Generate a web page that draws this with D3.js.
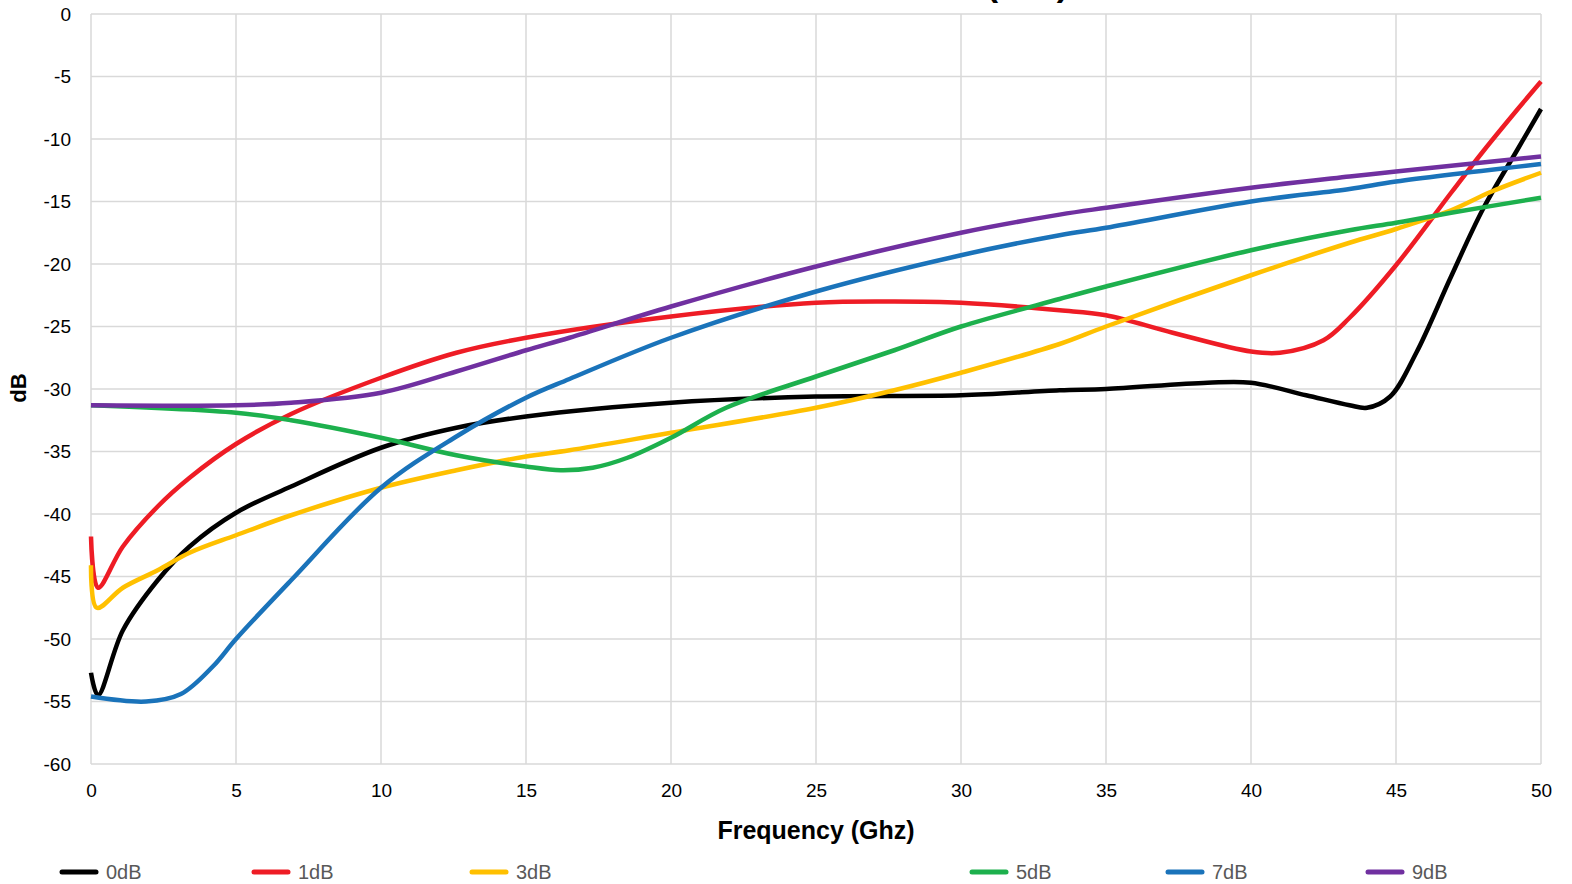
<!DOCTYPE html>
<html>
<head>
<meta charset="utf-8">
<script src="https://cdn.jsdelivr.net/npm/d3@7"></script>
<style>
  body { margin: 0; background: #fff; }
  svg { display: block; font-family: "Liberation Sans", Arial, sans-serif; }
  .grid line { stroke: #d9d9d9; stroke-width: 1.5; }
  .tick text { fill: #000; font-size: 19px; }
</style>
</head>
<body>
<svg width="1572" height="884"></svg>
<script>
// series names and colours
let seriesNames = ["0dB", "1dB", "3dB", "5dB", "7dB", "9dB"];
let seriesColors = ["#000000", "#ee1c25", "#ffc000", "#1db04d", "#1a73ba", "#7030a0"];

// tick labels
let xTicks = [0, 5, 10, 15, 20, 25, 30, 35, 40, 45, 50];
let yTicks = [0, -5, -10, -15, -20, -25, -30, -35, -40, -45, -50, -55, -60];

// frequency (GHz) / dB readings per series
let freq0 = [0, 0.24, 1.1, 2.3, 3.4, 5, 6.9, 10, 12.6, 15, 20, 25, 30, 33.4, 35, 38.5, 40, 41.9, 43.4, 44.0, 44.8, 45.7, 46.9, 48.0, 49.2, 50];
let db0   = [-52.7, -54.5, -49.3, -45.3, -42.6, -39.9, -37.8, -34.7, -33.1, -32.2, -31.1, -30.6, -30.5, -30.1, -30.0, -29.5, -29.5, -30.5, -31.3, -31.5, -30.6, -27.1, -21.0, -15.6, -10.8, -7.6];

let freq1 = [0, 0.24, 1.1, 2.3, 3.4, 5, 6.9, 10, 12.6, 15, 20, 25, 27.7, 30, 33.4, 35, 37.3, 40, 41, 42.5, 43.4, 45, 46.9, 48.0, 49.2, 50];
let db1   = [-41.8, -45.9, -42.6, -39.4, -37.1, -34.4, -32.0, -29.1, -27.1, -25.9, -24.2, -23.1, -23.0, -23.1, -23.7, -24.1, -25.5, -27.0, -27.1, -26.1, -24.3, -20.1, -14.3, -11.0, -7.6, -5.4];

let freq3 = [0, 0.2, 1.1, 2.3, 3.4, 5, 6.9, 10, 12.6, 15, 16.5, 20, 25, 27.7, 30, 33.4, 35, 40, 43.4, 45, 46.9, 48.3, 50];
let db3   = [-44.1, -47.5, -45.9, -44.5, -43.1, -41.7, -40.1, -37.9, -36.5, -35.4, -34.9, -33.5, -31.5, -30.1, -28.7, -26.4, -25.0, -20.9, -18.3, -17.2, -15.7, -14.2, -12.7];

let freq5 = [0, 5, 6.9, 10, 12.6, 15, 16.2, 17.3, 18.5, 20, 21.9, 25, 27.7, 30, 33.4, 35, 40, 43.4, 45, 46.9, 50];
let db5   = [-31.3, -31.9, -32.5, -33.9, -35.3, -36.2, -36.5, -36.3, -35.5, -33.9, -31.5, -29.0, -26.9, -25.0, -22.8, -21.8, -18.9, -17.3, -16.7, -15.9, -14.7];

let freq7 = [0, 1.9, 3.1, 4.2, 5, 6.9, 10, 12.6, 15, 16.5, 20, 25, 30, 33.4, 35, 40, 43.4, 45, 50];
let db7   = [-54.6, -55.0, -54.4, -52.2, -50.0, -45.3, -37.9, -33.8, -30.7, -29.2, -25.9, -22.2, -19.3, -17.7, -17.1, -15.0, -14.0, -13.4, -12.0];

let freq9 = [0, 5, 6.9, 10, 12.6, 15, 16.5, 20, 25, 30, 33.4, 35, 40, 43.4, 45, 50];
let db9   = [-31.3, -31.3, -31.1, -30.3, -28.6, -26.9, -25.9, -23.4, -20.2, -17.5, -16.05, -15.5, -13.9, -13.0, -12.6, -11.4];

let freqs = [freq0, freq1, freq3, freq5, freq7, freq9];
let dbs = [db0, db1, db3, db5, db7, db9];

// legend positions along the bottom (swatch left edge)
let legendX = [60, 252, 470, 970, 1166, 1366];

/******************/

let margin = {top: 14, right: 31, bottom: 120, left: 91};
let width = 1572 - margin.left - margin.right;
let height = 884 - margin.top - margin.bottom;

let xScale = d3.scaleLinear().domain([0, 50]).range([0, width]);
let yScale = d3.scaleLinear().domain([-60, 0]).range([height, 0]);

let svg = d3.select("svg");

// title (sits above the visible area, only the brackets peek in)
svg.append("text")
  .attr("x", 1068)
  .attr("y", -4)
  .attr("text-anchor", "end")
  .style("font-size", "34px")
  .style("font-weight", "bold")
  .text("Return Loss (S11)");

let parent = svg.append("g")
  .attr("transform", `translate(${margin.left}, ${margin.top})`);

// gridlines
parent.append("g")
  .attr("class", "grid")
  .selectAll("line.v")
  .data(xTicks)
  .enter().append("line")
    .attr("x1", d => xScale(d)).attr("x2", d => xScale(d))
    .attr("y1", 0).attr("y2", height);

parent.append("g")
  .attr("class", "grid")
  .selectAll("line.h")
  .data(yTicks)
  .enter().append("line")
    .attr("x1", 0).attr("x2", width)
    .attr("y1", d => yScale(d)).attr("y2", d => yScale(d));

// axes (labels only, Excel style)
let xAxis = d3.axisBottom(xScale).tickValues(xTicks).tickSize(0).tickPadding(20);
let yAxis = d3.axisLeft(yScale).tickValues(yTicks).tickSize(0).tickPadding(20)
  .tickFormat(d => d === 0 ? "0" : "-" + Math.abs(d));

parent.append("g")
  .attr("class", "x-axis")
  .attr("transform", `translate(0, ${height})`)
  .call(xAxis)
  .call(g => g.select(".domain").remove());

parent.append("g")
  .attr("class", "y-axis")
  .call(yAxis)
  .call(g => g.select(".domain").remove());

// axis titles
svg.append("text")
  .attr("x", margin.left + width / 2)
  .attr("y", 839)
  .attr("text-anchor", "middle")
  .style("font-size", "25px")
  .style("font-weight", "bold")
  .text("Frequency (Ghz)");

svg.append("text")
  .attr("transform", "translate(26, 388) rotate(-90)")
  .attr("text-anchor", "middle")
  .style("font-size", "22px")
  .style("font-weight", "bold")
  .text("dB");

// lines
let line = d3.line()
  .x(d => xScale(d[0]))
  .y(d => yScale(d[1]))
  .curve(d3.curveCatmullRom.alpha(0.5));

parent.selectAll(".series")
  .data(seriesNames)
  .enter().append("path")
    .attr("class", "series")
    .attr("fill", "none")
    .attr("stroke", (d, i) => seriesColors[i])
    .attr("stroke-width", 4.5)
    .attr("stroke-linejoin", "round")
    .attr("d", (d, i) => line(d3.zip(freqs[i], dbs[i])));

// legend
let legend = svg.selectAll(".legend")
  .data(seriesNames)
  .enter().append("g")
    .attr("class", "legend")
    .attr("transform", (d, i) => `translate(${legendX[i]}, 872)`);

legend.append("line")
  .attr("x1", 2).attr("x2", 36)
  .attr("stroke", (d, i) => seriesColors[i])
  .attr("stroke-width", 5)
  .attr("stroke-linecap", "round");

legend.append("text")
  .attr("x", 46)
  .attr("dy", "0.35em")
  .style("font-size", "20px")
  .style("fill", "#595959")
  .text(d => d);
</script>
</body>
</html>
